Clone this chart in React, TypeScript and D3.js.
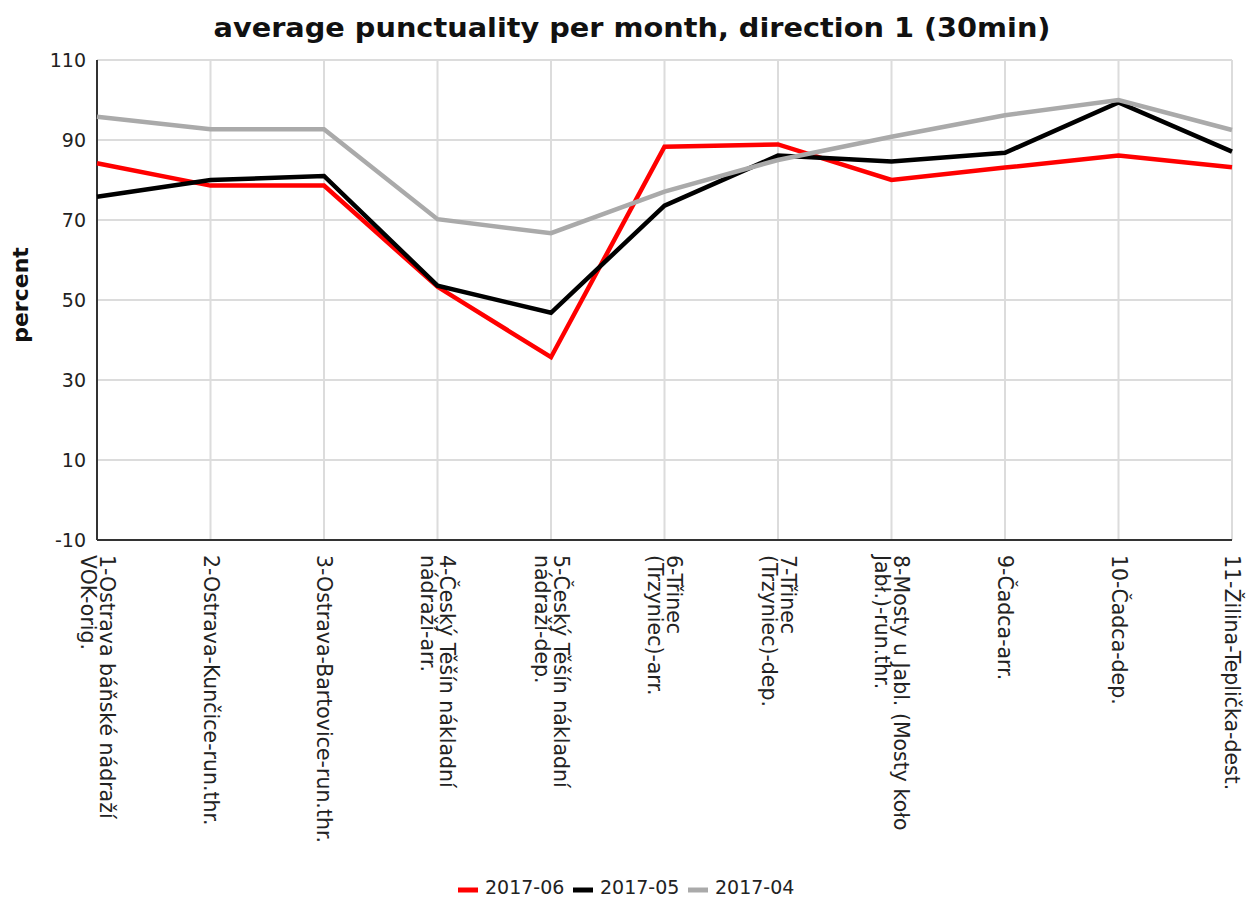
import React from "react";
import * as d3 from "d3";

const categories: string[][] = [
  ["1-Ostrava báňské nádraží", "VOK-orig."],
  ["2-Ostrava-Kunčice-run.thr."],
  ["3-Ostrava-Bartovice-run.thr."],
  ["4-Český Těšín nákladní", "nádraží-arr."],
  ["5-Český Těšín nákladní", "nádraží-dep."],
  ["6-Třinec", "(Trzyniec)-arr."],
  ["7-Třinec", "(Trzyniec)-dep."],
  ["8-Mosty u Jabl. (Mosty koło", "Jabł.)-run.thr."],
  ["9-Čadca-arr."],
  ["10-Čadca-dep."],
  ["11-Žilina-Teplička-dest."],
];

const s2017_06 = [84.2, 78.6, 78.6, 53.3, 35.7, 88.3, 88.9, 80, 83.1, 86.1, 83.2];
const s2017_05 = [75.8, 80, 81, 53.6, 46.8, 73.6, 86.1, 84.6, 86.8, 99.4, 87.1];
const s2017_04 = [95.8, 92.7, 92.7, 70.2, 66.7, 77.1, 85, 90.8, 96.2, 100, 92.5];

const yTicks = [-10, 10, 30, 50, 70, 90, 110];

const seriesList = [
  { name: "2017-06", values: s2017_06, color: "#ff0000" },
  { name: "2017-05", values: s2017_05, color: "#000000" },
  { name: "2017-04", values: s2017_04, color: "#aaaaaa" },
];

const FONT = "'DejaVu Sans', sans-serif";

export default function App() {
  const width = 1250;
  const height = 898;
  const left = 97, right = 1232, top = 60, bottom = 540;

  const x = d3.scalePoint<number>().domain(categories.map((_, i) => i)).range([left, right]);
  const y = d3.scaleLinear().domain([-10, 110]).range([bottom, top]);
  const line = d3.line<number>().x((_, i) => x(i)!).y((v) => y(v));

  return (
    <svg width={width} height={height} style={{ position: "absolute", left: 0, top: 0 }} fontFamily={FONT}>
      <rect x={0} y={0} width={width} height={height} fill="#fff" />
      <text x={632} y={37} textAnchor="middle" fontSize={27} fontWeight="bold" fill="#111" textLength={837} lengthAdjust="spacingAndGlyphs">
        average punctuality per month, direction 1 (30min)
      </text>
      {yTicks.map((t) => (
        <line key={"h" + t} x1={left} x2={right} y1={y(t)} y2={y(t)} stroke="#dcdcdc" strokeWidth={2} />
      ))}
      {categories.map((_, i) => (
        <line key={"v" + i} x1={x(i)} x2={x(i)} y1={top} y2={bottom} stroke="#dcdcdc" strokeWidth={2} />
      ))}
      <line x1={left} x2={left} y1={top} y2={bottom} stroke="#333" strokeWidth={2} />
      <line x1={left} x2={right} y1={bottom} y2={bottom} stroke="#333" strokeWidth={2} />
      {yTicks.map((t) => (
        <text key={"yt" + t} x={left - 11} y={y(t)} dy="0.35em" textAnchor="end" fontSize={19} fill="#222">
          {t}
        </text>
      ))}
      <text transform={`translate(20,${295}) rotate(-90)`} textAnchor="middle" dominantBaseline="central" fontSize={22} fontWeight="bold" fill="#111">
        percent
      </text>
      {categories.map((lines, i) => (
        <g key={"xl" + i} transform={`translate(${x(i)},${bottom + 15}) rotate(90)`}>
          {lines.map((ln, j) => (
            <text key={j} x={0} y={(j - (lines.length - 1) / 2) * 19} dominantBaseline="central" fontSize={20.5} fill="#222">
              {ln}
            </text>
          ))}
        </g>
      ))}
      {seriesList.map((s) => (
        <path key={s.name} d={line(s.values)!} fill="none" stroke={s.color} strokeWidth={4.5} strokeLinejoin="miter" />
      ))}
      {seriesList.map((s, i) => {
        const lx = 458 + i * 115;
        return (
          <g key={"lg" + s.name}>
            <line x1={lx} x2={lx + 20} y1={890} y2={890} stroke={s.color} strokeWidth={5} />
            <text x={lx + 27} y={894} fontSize={19} fill="#222">
              {s.name}
            </text>
          </g>
        );
      })}
    </svg>
  );
}
